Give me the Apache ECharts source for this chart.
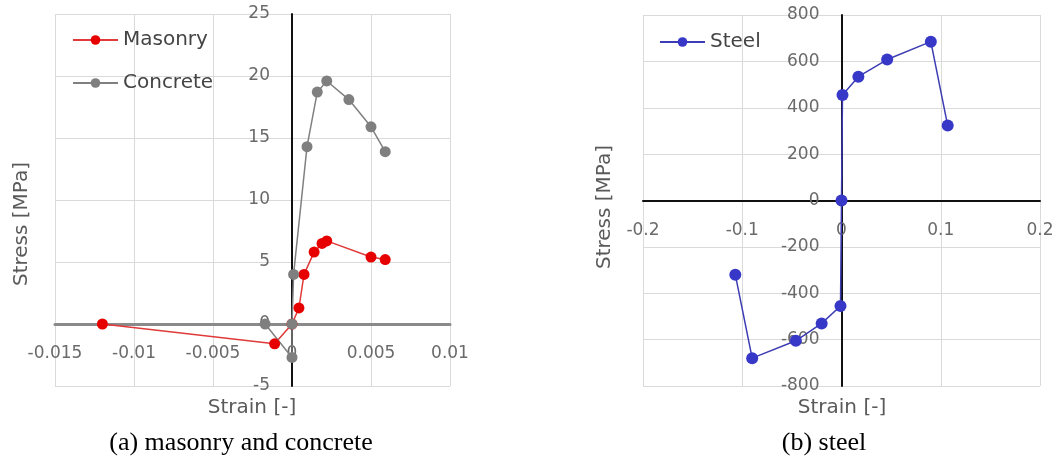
<!DOCTYPE html>
<html>
<head>
<meta charset="utf-8">
<script src="https://cdn.jsdelivr.net/npm/echarts@6/dist/echarts.min.js"></script>
<style>
  html, body { margin: 0; padding: 0; background: #fff; }
  #chart { width: 1057px; height: 461px; }
</style>
</head>
<body>
<div id="chart"></div>
<script>
// (a) masonry and concrete
const masonryStrain = [-0.012, -0.0011, 0, 0.00044, 0.00076, 0.0014, 0.0019, 0.0022, 0.005, 0.0059]
const masonryStress = [0, -1.6, 0, 1.3, 4.0, 5.8, 6.5, 6.7, 5.4, 5.2]
const concreteStrain = [-0.0017, 0, 0, 0.0001, 0.00095, 0.0016, 0.0022, 0.0036, 0.005, 0.0059]
const concreteStress = [0, -2.7, 0, 4.0, 14.3, 18.7, 19.6, 18.1, 15.9, 13.9]

// (b) steel
const steelStrain = [-0.107, -0.09, -0.046, -0.02, -0.001, 0, 0.001, 0.017, 0.046, 0.09, 0.107]
const steelStress = [-320, -680, -605, -530, -455, 0, 455, 534, 608, 685, 323]

// axis ranges
const leftX = { min: -0.015, max: 0.01, interval: 0.005 }
const leftY = { min: -5, max: 25, interval: 5 }
const rightX = { min: -0.2, max: 0.2, interval: 0.1 }
const rightY = { min: -800, max: 800, interval: 200 }

const captions = ['(a) masonry and concrete', '(b) steel']

const pairs = (xs, ys) => xs.map((x, i) => [x, ys[i]])
const fmt = v => String(parseFloat(v.toFixed(4)))

const font = 'DejaVu Sans'
const tickColor = '#6a6a6a'
const gridColor = '#dadada'

const grids = [
  { left: 55, right: 607, top: 14, bottom: 75 },
  { left: 643, right: 17, top: 15, bottom: 75 }
]

function valueAxis(range, gridIndex, lineColor, lineWidth, margin) {
  return Object.assign({}, range, {
    type: 'value',
    gridIndex: gridIndex,
    axisLine: { show: true, onZero: false, lineStyle: { color: lineColor, width: lineWidth } },
    axisTick: { show: false },
    axisLabel: { fontFamily: font, fontSize: 17, color: tickColor, margin: margin, formatter: fmt },
    splitLine: { show: true, lineStyle: { color: gridColor, width: 1 } }
  })
}

function lineSeries(name, data, color, lineColor, size, xi) {
  return {
    name: name,
    type: 'line',
    xAxisIndex: xi,
    yAxisIndex: xi,
    data: data,
    symbol: 'circle',
    symbolSize: size,
    itemStyle: { color: color },
    lineStyle: { color: lineColor, width: 1.5 },
    emphasis: { disabled: true },
    z: 3
  }
}

const legendBase = {
  orient: 'vertical',
  itemWidth: 45,
  itemHeight: 12,
  itemGap: 23,
  padding: 0,
  textStyle: { fontFamily: font, fontSize: 20, color: '#444' },
  selectedMode: false
}

function titleText(x, y, text, rotate) {
  return {
    type: 'text',
    x: x,
    y: y,
    rotation: rotate ? Math.PI / 2 : 0,
    style: {
      text: text,
      fontFamily: font,
      fontSize: 20,
      fill: '#5a5a5a',
      align: 'center',
      verticalAlign: 'middle'
    }
  }
}

function captionText(x, text) {
  return {
    type: 'text', x: x, y: 443,
    style: { text: text, fontFamily: 'Liberation Serif', fontSize: 26, fill: '#000', align: 'center', verticalAlign: 'middle' }
  }
}

const chart = echarts.init(document.getElementById('chart'))

chart.setOption({
  backgroundColor: '#fff',
  animation: false,
  grid: grids,
  legend: [
    Object.assign({}, legendBase, { data: ['Masonry', 'Concrete'], left: 72, top: 30 }),
    Object.assign({}, legendBase, { data: ['Steel'], left: 659, top: 32 })
  ],
  xAxis: [
    valueAxis(leftX, 0, '#8a8a8a', 3, 21),
    valueAxis(rightX, 1, '#111', 2, 22)
  ],
  yAxis: [
    valueAxis(leftY, 0, '#111', 2, 22),
    valueAxis(rightY, 1, '#111', 2, 22)
  ],
  series: [
    lineSeries('Masonry', pairs(masonryStrain, masonryStress), '#e60000', '#e03a3a', 11, 0),
    lineSeries('Concrete', pairs(concreteStrain, concreteStress), '#7f7f7f', '#808080', 11, 0),
    lineSeries('Steel', pairs(steelStrain, steelStress), '#3737c8', '#3c3cb4', 12, 1)
  ],
  graphic: [
    titleText(252, 408, 'Strain [-]'),
    titleText(842, 408, 'Strain [-]'),
    titleText(22, 224, 'Stress [MPa]', true),
    titleText(605, 207, 'Stress [MPa]', true),
    captionText(241, captions[0]),
    captionText(824, captions[1])
  ]
})

// move each axis (line and labels) onto the other axis's zero, like the Excel original
const H = 461
const xOffsets = []
const yOffsets = []
grids.forEach((g, i) => {
  const zero = chart.convertToPixel({ gridIndex: i }, [0, 0])
  yOffsets.push(-(zero[0] - g.left))
  xOffsets.push(-((H - g.bottom) - zero[1]))
})
chart.setOption({
  xAxis: xOffsets.map(o => ({ offset: o })),
  yAxis: yOffsets.map(o => ({ offset: o }))
})
</script>
</body>
</html>
